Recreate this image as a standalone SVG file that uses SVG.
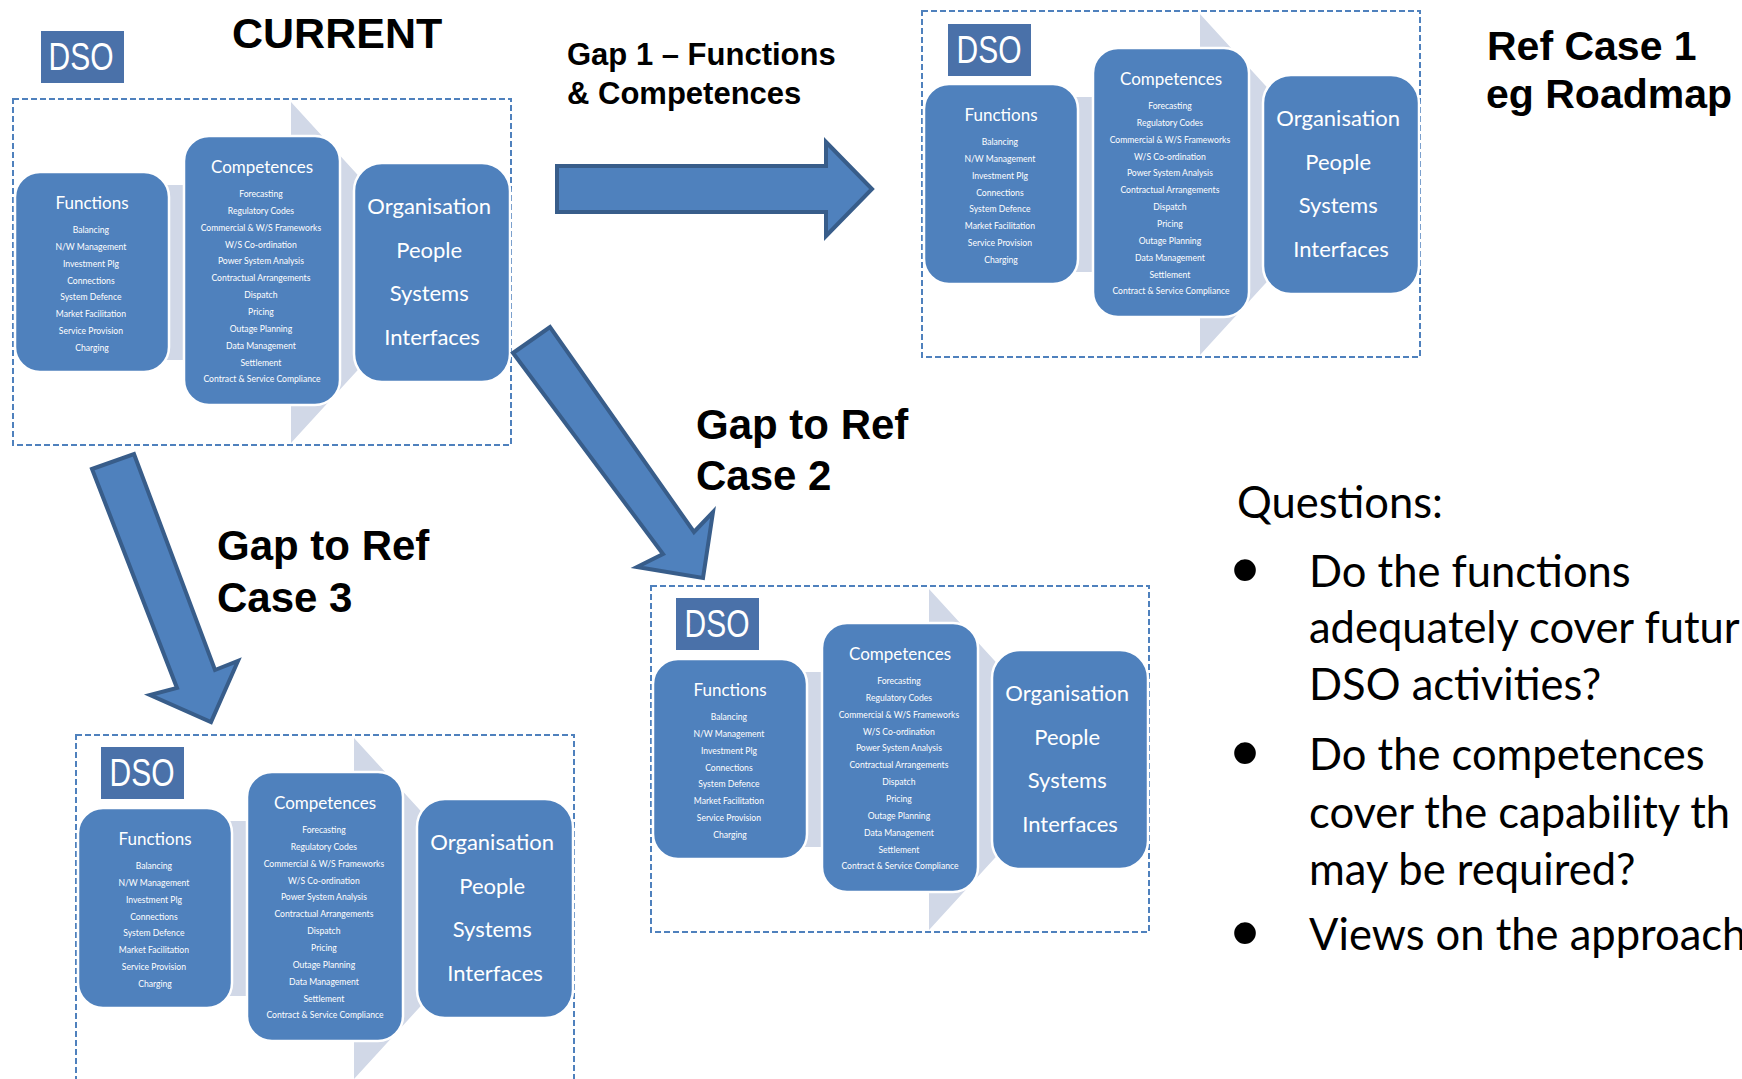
<svg xmlns="http://www.w3.org/2000/svg" width="1742" height="1079" viewBox="0 0 1742 1079">
  <style>
    .frame { fill: none; stroke: #4f81bd; stroke-width: 2; stroke-dasharray: 6 3; }
    .chev { fill: #d1d8e7; }
    .box { fill: #4f81bd; stroke: #ffffff; stroke-width: 2.5; }
    .dso { fill: #4a71a9; }
    .dsot { font-family: "Liberation Sans", Arial, sans-serif; font-size: 38px; fill: #ffffff; text-anchor: middle; }
    .cal { font-family: Lato, "Open Sans", sans-serif; fill: #ffffff; text-anchor: middle; }
    .ttl { font-size: 17px; }
    .itm { font-size: 8.6px; }
    .org { font-size: 22px; }
    .head { font-family: "Liberation Sans", Arial, sans-serif; font-weight: bold; fill: #000000; }
    .q { font-family: Lato, "Open Sans", sans-serif; font-size: 43.5px; fill: #000000; }
    .bul { font-family: "Liberation Sans", Arial, sans-serif; font-size: 80px; fill: #000000; text-anchor: middle; }
    .blk { fill: #4f81bd; stroke: #385d8a; stroke-width: 4; stroke-linejoin: miter; }
  </style>

  <rect width="1742" height="1079" fill="#ffffff"/>

  <!-- Panel: CURRENT -->
  <g id="panel-current" transform="translate(13,99)">
    <rect class="frame" x="0" y="0" width="498" height="346"/>
    <polygon class="chev" points="30,86 278,86 278,3 434,173.5 278,344 278,261 30,261"/>
    <g id="current-dso">
      <rect class="dso" x="28" y="-68" width="83" height="52"/>
      <text class="dsot" x="68" y="-29" textLength="65" lengthAdjust="spacingAndGlyphs">DSO</text>
    </g>
    <g id="current-functions">
      <rect class="box" x="2" y="73" width="154" height="200" rx="25"/>
      <text class="cal ttl" x="79" y="110">Functions</text>
      <text class="cal itm">
        <tspan x="79" y="134">Balancing</tspan>
        <tspan x="79" y="150.9">N/W Management</tspan>
        <tspan x="79" y="167.7">Investment Plg</tspan>
        <tspan x="79" y="184.6">Connections</tspan>
        <tspan x="79" y="201.4">System Defence</tspan>
        <tspan x="79" y="218.3">Market Facilitation</tspan>
        <tspan x="79" y="235.1">Service Provision</tspan>
        <tspan x="79" y="252">Charging</tspan>
      </text>
    </g>
    <g id="current-competences">
      <rect class="box" x="171" y="37" width="156" height="269" rx="25"/>
      <text class="cal ttl" x="249" y="74">Competences</text>
      <text class="cal itm">
        <tspan x="249" y="98">Forecasting</tspan>
        <tspan x="249" y="114.9">Regulatory Codes</tspan>
        <tspan x="249" y="131.7">Commercial &amp; W/S Frameworks</tspan>
        <tspan x="249" y="148.6">W/S Co-ordination</tspan>
        <tspan x="249" y="165.4">Power System Analysis</tspan>
        <tspan x="249" y="182.3">Contractual Arrangements</tspan>
        <tspan x="249" y="199.1">Dispatch</tspan>
        <tspan x="249" y="216">Pricing</tspan>
        <tspan x="249" y="232.8">Outage Planning</tspan>
        <tspan x="249" y="249.7">Data Management</tspan>
        <tspan x="249" y="266.5">Settlement</tspan>
        <tspan x="249" y="283.4">Contract &amp; Service Compliance</tspan>
      </text>
    </g>
    <g id="current-organisation">
      <rect class="box" x="341" y="64" width="156" height="219" rx="28"/>
      <text class="cal org">
        <tspan x="419" y="115">Organisation</tspan>
        <tspan x="419" y="158.5">People</tspan>
        <tspan x="419" y="202">Systems</tspan>
        <tspan x="419" y="245.5">Interfaces</tspan>
      </text>
    </g>
  </g>

  <!-- Panel: Ref Case 1 -->
  <g id="panel-ref-case-1" transform="translate(922,11)">
    <rect class="frame" x="0" y="0" width="498" height="346"/>
    <polygon class="chev" points="30,86 278,86 278,3 434,173.5 278,344 278,261 30,261"/>
    <g id="case1-dso">
      <rect class="dso" x="26" y="13" width="83" height="52"/>
      <text class="dsot" x="67" y="52" textLength="65" lengthAdjust="spacingAndGlyphs">DSO</text>
    </g>
    <g id="case1-functions">
      <rect class="box" x="2" y="73" width="154" height="200" rx="25"/>
      <text class="cal ttl" x="79" y="110">Functions</text>
      <text class="cal itm">
        <tspan x="79" y="134">Balancing</tspan>
        <tspan x="79" y="150.9">N/W Management</tspan>
        <tspan x="79" y="167.7">Investment Plg</tspan>
        <tspan x="79" y="184.6">Connections</tspan>
        <tspan x="79" y="201.4">System Defence</tspan>
        <tspan x="79" y="218.3">Market Facilitation</tspan>
        <tspan x="79" y="235.1">Service Provision</tspan>
        <tspan x="79" y="252">Charging</tspan>
      </text>
    </g>
    <g id="case1-competences">
      <rect class="box" x="171" y="37" width="156" height="269" rx="25"/>
      <text class="cal ttl" x="249" y="74">Competences</text>
      <text class="cal itm">
        <tspan x="249" y="98">Forecasting</tspan>
        <tspan x="249" y="114.9">Regulatory Codes</tspan>
        <tspan x="249" y="131.7">Commercial &amp; W/S Frameworks</tspan>
        <tspan x="249" y="148.6">W/S Co-ordination</tspan>
        <tspan x="249" y="165.4">Power System Analysis</tspan>
        <tspan x="249" y="182.3">Contractual Arrangements</tspan>
        <tspan x="249" y="199.1">Dispatch</tspan>
        <tspan x="249" y="216">Pricing</tspan>
        <tspan x="249" y="232.8">Outage Planning</tspan>
        <tspan x="249" y="249.7">Data Management</tspan>
        <tspan x="249" y="266.5">Settlement</tspan>
        <tspan x="249" y="283.4">Contract &amp; Service Compliance</tspan>
      </text>
    </g>
    <g id="case1-organisation">
      <rect class="box" x="341" y="64" width="156" height="219" rx="28"/>
      <text class="cal org">
        <tspan x="419" y="115">Organisation</tspan>
        <tspan x="419" y="158.5">People</tspan>
        <tspan x="419" y="202">Systems</tspan>
        <tspan x="419" y="245.5">Interfaces</tspan>
      </text>
    </g>
  </g>

  <!-- Panel: Ref Case 2 -->
  <g id="panel-ref-case-2" transform="translate(651,586)">
    <rect class="frame" x="0" y="0" width="498" height="346"/>
    <polygon class="chev" points="30,86 278,86 278,3 434,173.5 278,344 278,261 30,261"/>
    <g id="case2-dso">
      <rect class="dso" x="25" y="12" width="83" height="52"/>
      <text class="dsot" x="66" y="51" textLength="65" lengthAdjust="spacingAndGlyphs">DSO</text>
    </g>
    <g id="case2-functions">
      <rect class="box" x="2" y="73" width="154" height="200" rx="25"/>
      <text class="cal ttl" x="79" y="110">Functions</text>
      <text class="cal itm">
        <tspan x="79" y="134">Balancing</tspan>
        <tspan x="79" y="150.9">N/W Management</tspan>
        <tspan x="79" y="167.7">Investment Plg</tspan>
        <tspan x="79" y="184.6">Connections</tspan>
        <tspan x="79" y="201.4">System Defence</tspan>
        <tspan x="79" y="218.3">Market Facilitation</tspan>
        <tspan x="79" y="235.1">Service Provision</tspan>
        <tspan x="79" y="252">Charging</tspan>
      </text>
    </g>
    <g id="case2-competences">
      <rect class="box" x="171" y="37" width="156" height="269" rx="25"/>
      <text class="cal ttl" x="249" y="74">Competences</text>
      <text class="cal itm">
        <tspan x="249" y="98">Forecasting</tspan>
        <tspan x="249" y="114.9">Regulatory Codes</tspan>
        <tspan x="249" y="131.7">Commercial &amp; W/S Frameworks</tspan>
        <tspan x="249" y="148.6">W/S Co-ordination</tspan>
        <tspan x="249" y="165.4">Power System Analysis</tspan>
        <tspan x="249" y="182.3">Contractual Arrangements</tspan>
        <tspan x="249" y="199.1">Dispatch</tspan>
        <tspan x="249" y="216">Pricing</tspan>
        <tspan x="249" y="232.8">Outage Planning</tspan>
        <tspan x="249" y="249.7">Data Management</tspan>
        <tspan x="249" y="266.5">Settlement</tspan>
        <tspan x="249" y="283.4">Contract &amp; Service Compliance</tspan>
      </text>
    </g>
    <g id="case2-organisation">
      <rect class="box" x="341" y="64" width="156" height="219" rx="28"/>
      <text class="cal org">
        <tspan x="419" y="115">Organisation</tspan>
        <tspan x="419" y="158.5">People</tspan>
        <tspan x="419" y="202">Systems</tspan>
        <tspan x="419" y="245.5">Interfaces</tspan>
      </text>
    </g>
  </g>

  <!-- Panel: Ref Case 3 -->
  <g id="panel-ref-case-3" transform="translate(76,735)">
    <rect class="frame" x="0" y="0" width="498" height="346"/>
    <polygon class="chev" points="30,86 278,86 278,3 434,173.5 278,344 278,261 30,261"/>
    <g id="case3-dso">
      <rect class="dso" x="25" y="12" width="83" height="52"/>
      <text class="dsot" x="66" y="51" textLength="65" lengthAdjust="spacingAndGlyphs">DSO</text>
    </g>
    <g id="case3-functions">
      <rect class="box" x="2" y="73" width="154" height="200" rx="25"/>
      <text class="cal ttl" x="79" y="110">Functions</text>
      <text class="cal itm">
        <tspan x="79" y="134">Balancing</tspan>
        <tspan x="79" y="150.9">N/W Management</tspan>
        <tspan x="79" y="167.7">Investment Plg</tspan>
        <tspan x="79" y="184.6">Connections</tspan>
        <tspan x="79" y="201.4">System Defence</tspan>
        <tspan x="79" y="218.3">Market Facilitation</tspan>
        <tspan x="79" y="235.1">Service Provision</tspan>
        <tspan x="79" y="252">Charging</tspan>
      </text>
    </g>
    <g id="case3-competences">
      <rect class="box" x="171" y="37" width="156" height="269" rx="25"/>
      <text class="cal ttl" x="249" y="74">Competences</text>
      <text class="cal itm">
        <tspan x="249" y="98">Forecasting</tspan>
        <tspan x="249" y="114.9">Regulatory Codes</tspan>
        <tspan x="249" y="131.7">Commercial &amp; W/S Frameworks</tspan>
        <tspan x="249" y="148.6">W/S Co-ordination</tspan>
        <tspan x="249" y="165.4">Power System Analysis</tspan>
        <tspan x="249" y="182.3">Contractual Arrangements</tspan>
        <tspan x="249" y="199.1">Dispatch</tspan>
        <tspan x="249" y="216">Pricing</tspan>
        <tspan x="249" y="232.8">Outage Planning</tspan>
        <tspan x="249" y="249.7">Data Management</tspan>
        <tspan x="249" y="266.5">Settlement</tspan>
        <tspan x="249" y="283.4">Contract &amp; Service Compliance</tspan>
      </text>
    </g>
    <g id="case3-organisation">
      <rect class="box" x="341" y="64" width="156" height="219" rx="28"/>
      <text class="cal org">
        <tspan x="419" y="115">Organisation</tspan>
        <tspan x="419" y="158.5">People</tspan>
        <tspan x="419" y="202">Systems</tspan>
        <tspan x="419" y="245.5">Interfaces</tspan>
      </text>
    </g>
  </g>

  <!-- Block arrows between the panels -->
  <g id="connectors">
    <polygon class="blk" points="557,166 826,166 826,142 872,189 826,236 826,212 557,212"/>
    <polygon class="blk" points="513,353 550,327 694,532 713,512 703,578 637,567 663,554"/>
    <polygon class="blk" points="92,469 134,454 215,670 238,661 211,722 150,695 177,688"/>
  </g>

  <!-- Headings -->
  <g id="labels">
    <text class="head" x="232" y="48" font-size="43">CURRENT</text>
    <text class="head" font-size="31">
      <tspan x="567" y="65">Gap 1 – Functions</tspan>
      <tspan x="567" y="104">&amp; Competences</tspan>
    </text>
    <text class="head" font-size="41">
      <tspan x="1487" y="60">Ref Case 1</tspan>
      <tspan x="1486" y="108">eg Roadmap</tspan>
    </text>
    <text class="head" font-size="42">
      <tspan x="696" y="439">Gap to Ref</tspan>
      <tspan x="696" y="490">Case 2</tspan>
    </text>
    <text class="head" font-size="42">
      <tspan x="217" y="560">Gap to Ref</tspan>
      <tspan x="217" y="612">Case 3</tspan>
    </text>
  </g>

  <!-- Questions list -->
  <g id="questions">
    <text class="q" x="1237" y="518">Questions:</text>
    <text class="bul" x="1245" y="597">•</text>
    <text class="bul" x="1245" y="780">•</text>
    <text class="bul" x="1245" y="960">•</text>
    <text class="q">
      <tspan x="1309" y="587">Do the functions</tspan>
      <tspan x="1309" y="643">adequately cover futur</tspan>
      <tspan x="1309" y="700">DSO activities?</tspan>
      <tspan x="1309" y="770">Do the competences</tspan>
      <tspan x="1309" y="828">cover the capability th</tspan>
      <tspan x="1309" y="885">may be required?</tspan>
      <tspan x="1309" y="950">Views on the approach</tspan>
    </text>
  </g>
</svg>
